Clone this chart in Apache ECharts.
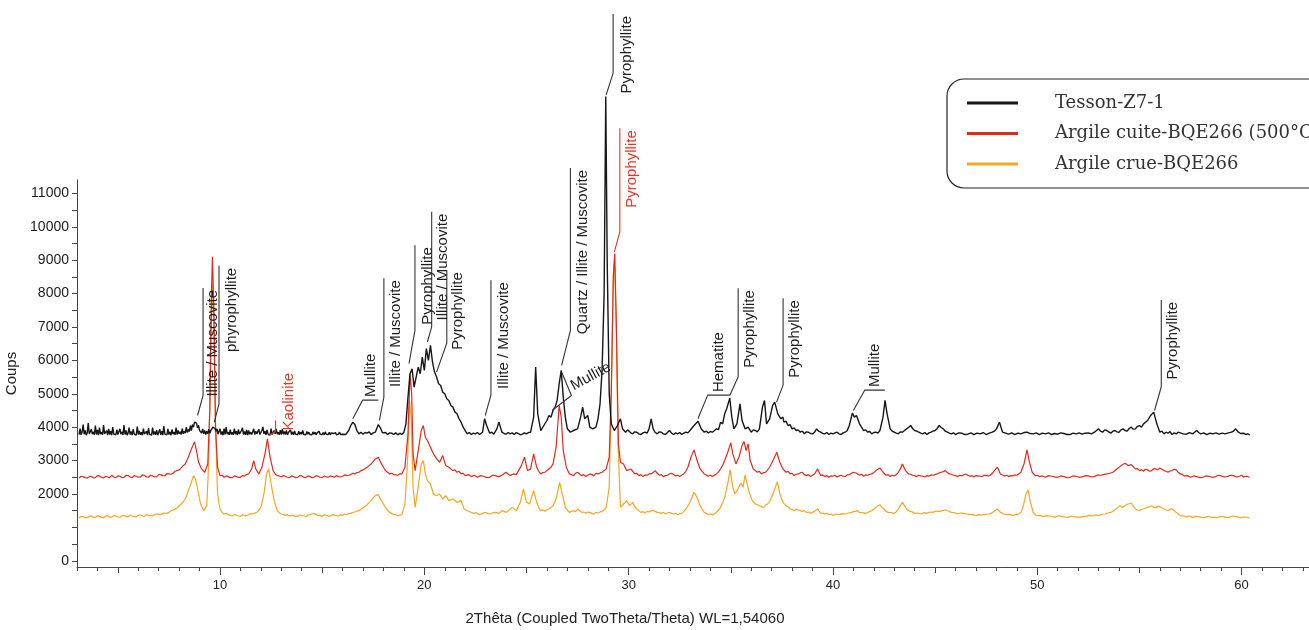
<!DOCTYPE html>
<html><head><meta charset="utf-8">
<script src="https://cdn.jsdelivr.net/npm/echarts@6/dist/echarts.min.js"></script>
<style>html,body{margin:0;padding:0;background:#fff}#c{width:1309px;height:630px}</style>
</head><body><div id="c"></div>
<script>
// ---------- data (2θ in degrees, counts) ----------
const tessonZ71 = [
[3.10,3780],[3.15,3960],[3.20,3770],[3.25,3850],[3.30,4080],[3.35,3790],[3.40,3900],[3.45,3760],[3.50,3830],[3.55,4120],
[3.60,3800],[3.65,3760],[3.70,3940],[3.75,3790],[3.80,3860],[3.85,3770],[3.90,4050],[3.95,3780],[4.00,3920],[4.05,3760],
[4.10,3990],[4.15,3790],[4.20,3850],[4.25,3770],[4.30,4060],[4.35,3800],[4.40,3780],[4.45,3900],[4.50,3760],[4.55,3950],
[4.60,3780],[4.65,3880],[4.70,3760],[4.75,4000],[4.80,3790],[4.85,3840],[4.90,3770],[4.95,3930],[5.00,3780],[5.05,3760],
[5.10,3950],[5.15,3790],[5.20,3860],[5.25,3770],[5.30,4060],[5.35,3780],[5.40,3900],[5.45,3760],[5.50,3820],[5.55,3990],
[5.60,3780],[5.65,3870],[5.70,3760],[5.75,3940],[5.80,3790],[5.85,3800],[5.90,3760],[5.95,4020],[6.00,3780],[6.05,3890],
[6.10,3770],[6.15,3850],[6.20,3760],[6.25,3960],[6.30,3790],[6.35,3780],[6.40,3880],[6.45,3760],[6.50,3970],[6.55,3790],
[6.60,3830],[6.65,3760],[6.70,3990],[6.75,3780],[6.80,3870],[6.85,3770],[6.90,3910],[6.95,3760],[7.00,3800],[7.05,3940],
[7.10,3770],[7.15,3880],[7.20,3760],[7.25,4030],[7.30,3790],[7.35,3820],[7.40,3770],[7.45,3950],[7.50,3780],[7.55,3860],
[7.60,3760],[7.65,3930],[7.70,3790],[7.75,3850],[7.80,3770],[7.85,3990],[7.90,3780],[7.95,3900],[8.00,3800],[8.05,3860],
[8.10,3780],[8.15,3960],[8.20,3800],[8.25,3880],[8.30,3820],[8.35,4000],[8.40,3840],[8.45,3930],[8.50,3870],[8.55,4050],
[8.60,3900],[8.65,4080],[8.70,4000],[8.75,4150],[8.80,4180],[8.85,4120],[8.90,3980],[8.95,4050],[9.00,3900],[9.05,3870],
[9.10,3820],[9.15,3950],[9.20,3800],[9.25,3900],[9.30,3780],[9.35,3880],[9.40,3800],[9.45,3930],[9.50,3820],[9.55,3900],
[9.60,3950],[9.65,4000],[9.70,4050],[9.75,3960],[9.80,3880],[9.85,3950],[9.90,3790],[9.95,3880],[10.00,3950],[10.05,3780],
[10.10,3870],[10.15,3760],[10.20,3960],[10.25,3780],[10.30,4000],[10.35,3790],[10.40,3850],[10.45,3770],[10.50,3930],[10.55,3780],
[10.60,3850],[10.65,3770],[10.70,3960],[10.75,3790],[10.80,3880],[10.85,3760],[10.90,3930],[10.95,3790],[11.00,3760],[11.05,3900],
[11.10,3980],[11.15,3780],[11.20,3870],[11.25,3770],[11.30,3920],[11.35,3760],[11.40,3900],[11.45,3790],[11.50,3850],[11.55,3780],
[11.60,3790],[11.65,3950],[11.70,3780],[11.75,3880],[11.80,3800],[11.85,3770],[11.90,3940],[11.95,3780],[12.00,3770],[12.05,3900],
[12.10,4010],[12.15,3800],[12.20,3880],[12.25,3770],[12.30,3920],[12.35,3790],[12.40,3830],[12.45,3760],[12.50,3960],[12.55,3780],
[12.60,3780],[12.65,3900],[12.70,3800],[12.75,3950],[12.80,3790],[12.85,3850],[12.90,3770],[12.95,3910],[13.00,3780],[13.05,3940],
[13.10,3790],[13.15,3870],[13.20,3780],[13.25,3900],[13.30,3770],[13.35,3840],[13.40,3790],[13.45,3920],[13.50,3780],[13.55,3860],
[13.60,3770],[13.65,3890],[13.70,3790],[13.75,3830],[13.80,3770],[13.85,3880],[13.90,3780],[13.95,3850],[14.00,3790],[14.05,3900],
[14.10,3780],[14.15,3830],[14.20,3770],[14.25,3870],[14.30,3790],[14.35,3850],[14.40,3780],[14.45,3810],[14.50,3770],[14.55,3860],
[14.60,3790],[14.65,3850],[14.70,3770],[14.75,3830],[14.80,3780],[14.85,3880],[14.90,3790],[14.95,3830],[15.00,3780],[15.05,3840],
[15.10,3770],[15.15,3860],[15.20,3790],[15.25,3820],[15.30,3780],[15.35,3850],[15.40,3770],[15.45,3830],[15.50,3790],[15.55,3810],
[15.60,3780],[15.65,3840],[15.70,3770],[15.75,3810],[15.80,3790],[15.85,3850],[15.90,3780],[15.95,3820],[16.00,3790],[16.05,3830],
[16.15,3780],[16.2,3810],[16.3,3900],[16.4,4050],[16.5,4150],[16.6,4080],[16.7,3900],[16.8,3800],
[16.9,3850],[17.0,3790],[17.1,3840],[17.2,3820],[17.3,3860],[17.4,3780],[17.5,3830],[17.6,3850],[17.75,4080],[17.85,3980],[17.95,3830],[18.0,3800],
[18.1,3840],[18.2,3780],[18.3,3830],[18.4,3820],[18.5,3780],[18.6,3830],[18.7,3770],[18.8,3820],[18.9,3780],[19.0,3850],[19.1,4100],[19.2,4900],[19.3,5600],[19.4,5750],[19.5,5200],[19.6,5500],[19.7,5800],
[19.8,5600],[19.9,6100],[20.0,5700],[20.1,6350],[20.2,6000],[20.3,6450],[20.4,5950],[20.5,5650],[20.6,5500],[20.7,5300],
[20.8,5250],[20.9,5050],[21.0,5000],[21.1,4850],[21.2,4800],[21.3,4650],[21.4,4600],[21.5,4450],[21.6,4400],[21.7,4250],
[21.8,4150],[21.9,4000],[22.0,3900],[22.1,3800],[22.2,3840],[22.3,3780],[22.4,3820],[22.5,3800],[22.6,3840],[22.7,3780],[22.85,3850],[22.95,4250],[23.05,4050],
[23.2,3820],[23.3,3850],[23.4,3790],[23.55,3950],[23.65,4150],[23.8,3850],[23.9,3810],[24.0,3790],[24.1,3840],[24.2,3800],[24.3,3830],[24.4,3780],[24.5,3840],[24.6,3810],[24.7,3770],[24.8,3790],
[24.9,3830],[25.0,3800],[25.1,3840],[25.2,3850],[25.35,4300],[25.45,5800],[25.55,4400],[25.7,3900],[25.85,4050],[26.0,4200],[26.1,4350],[26.2,4300],
[26.3,4500],[26.4,4600],[26.5,4800],[26.6,5300],[26.7,5700],[26.8,4900],[26.9,4300],[27.0,3950],[27.15,3850],[27.3,3900],
[27.5,3950],[27.65,4300],[27.75,4600],[27.85,4250],[28.0,4350],[28.1,4000],[28.25,3950],[28.4,4000],[28.5,4250],[28.6,4700],
[28.7,5700],[28.8,8000],[28.88,13900],[28.95,9000],[29.05,5000],[29.15,4100],[29.3,3900],[29.45,4050],[29.6,4250],[29.7,3950],
[29.85,3850],[29.95,3920],[30.0,3900],[30.1,3830],[30.2,3800],[30.3,3860],[30.4,3850],[30.5,3800],[30.6,3780],[30.7,3830],[30.8,3850],[30.9,3820],[31.0,3950],[31.1,4250],[31.2,3950],[31.3,3840],[31.4,3800],
[31.5,3860],[31.6,3850],[31.7,3800],[31.8,3780],[31.9,3840],[32.0,3900],[32.1,3820],[32.2,3780],[32.3,3830],[32.4,3800],[32.5,3840],[32.6,3780],[32.7,3820],[32.8,3850],[32.9,3830],[33.0,3900],[33.2,4050],[33.4,4180],
[33.55,3950],[33.7,3850],[33.8,3880],[33.9,3830],[34.0,3870],[34.1,3850],[34.2,3900],[34.3,3950],[34.4,3930],[34.5,4150],[34.6,4100],[34.7,4400],[34.8,4550],[34.95,4870],[35.05,4300],
[35.15,3950],[35.3,4100],[35.45,4700],[35.55,4200],[35.7,3950],[35.85,4000],[36.0,3850],[36.1,3920],[36.2,3900],[36.3,3860],[36.4,3950],[36.55,4600],
[36.65,4800],[36.75,4100],[36.9,4250],[37.05,4650],[37.15,4750],[37.3,4400],[37.45,4250],[37.55,4300],[37.6,4150],[37.7,4180],[37.8,4050],[37.9,4080],[38.0,3950],
[38.1,3980],[38.2,3900],[38.3,3920],[38.4,3850],[38.5,3880],[38.6,3800],[38.7,3860],[38.8,3850],[38.9,3810],[39.0,3800],[39.1,3850],[39.2,3950],[39.3,3880],[39.4,3850],[39.5,3810],[39.6,3800],[39.7,3840],[39.8,3780],[39.9,3820],[40.0,3800],
[40.1,3830],[40.2,3850],[40.3,3800],[40.4,3780],[40.5,3830],[40.6,3850],[40.7,3900],[40.8,4050],[40.95,4420],[41.05,4300],[41.15,4350],[41.3,4100],[41.4,4000],[41.5,3900],[41.6,3920],[41.7,3850],
[41.8,3870],[41.9,3800],[42.0,3840],[42.1,3850],[42.2,3820],[42.3,3900],[42.45,4300],[42.55,4800],[42.65,4400],[42.8,3950],[42.9,3880],[43.0,3850],[43.1,3820],[43.2,3800],[43.3,3860],[43.4,3850],
[43.5,3900],[43.6,3950],[43.7,3990],[43.8,4050],[43.9,3960],[44.0,3900],[44.1,3880],[44.2,3850],[44.3,3820],[44.4,3800],[44.5,3840],[44.6,3780],[44.7,3830],[44.8,3850],[44.9,3880],[45.0,3900],[45.1,3960],[45.2,4050],[45.3,3990],[45.4,3950],
[45.5,3880],[45.6,3850],[45.7,3820],[45.8,3800],[45.9,3830],[46.0,3780],[46.15,3830],[46.3,3820],[46.45,3780],[46.6,3790],[46.75,3830],[46.9,3780],[47.05,3820],[47.2,3800],[47.35,3840],[47.5,3780],[47.65,3820],[47.8,3850],[47.9,3880],[48.0,3950],
[48.15,4150],[48.3,3850],[48.45,3820],[48.6,3790],[48.75,3830],[48.9,3780],[49.05,3820],[49.2,3800],[49.35,3840],[49.5,3850],[49.65,3810],[49.8,3800],[49.95,3830],[50.1,3780],[50.25,3820],[50.4,3800],[50.55,3830],[50.7,3780],
[50.85,3810],[51.0,3790],[51.15,3830],[51.3,3810],[51.45,3780],[51.6,3780],[51.75,3820],[51.9,3800],[52.05,3830],[52.2,3790],[52.35,3820],[52.5,3830],[52.65,3800],[52.8,3850],[52.9,3900],[53.0,3950],[53.1,3880],[53.2,3850],[53.3,3920],[53.4,3900],
[53.5,3860],[53.6,3820],[53.7,3880],[53.8,3900],[53.9,3860],[54.0,3850],[54.1,3920],[54.2,3950],[54.3,3900],[54.4,3880],[54.5,3960],[54.6,4000],[54.7,3940],[54.8,3950],[54.9,4020],[55.0,4050],[55.1,4000],[55.2,4100],[55.3,4150],[55.4,4200],
[55.55,4350],[55.7,4450],[55.85,4100],[56.0,3850],[56.1,3880],[56.2,3800],[56.3,3850],[56.4,3820],[56.5,3870],[56.6,3780],[56.7,3830],[56.8,3800],[56.9,3850],[57.0,3830],[57.15,3800],[57.3,3790],[57.45,3840],
[57.6,3800],[57.7,3850],[57.8,3900],[57.9,3840],[58.0,3800],[58.15,3830],[58.3,3780],[58.45,3820],[58.6,3800],[58.75,3830],[58.9,3790],[59.05,3820],[59.2,3800],[59.35,3830],[59.5,3850],[59.6,3880],[59.7,3950],[59.85,3850],
[59.95,3810],[60.0,3790],[60.1,3820],[60.2,3780],[60.3,3800],[60.4,3770]
];
const argileCuite = [
[3.1,2480],[3.2,2530],[3.3,2520],[3.4,2490],[3.5,2470],[3.6,2520],[3.7,2530],[3.8,2480],[3.9,2490],[4.0,2550],[4.1,2540],[4.2,2500],[4.3,2480],[4.4,2530],[4.5,2510],[4.6,2490],[4.7,2560],[4.8,2510],[4.9,2490],
[5.0,2540],[5.1,2530],[5.2,2490],[5.3,2500],[5.4,2560],[5.5,2550],[5.6,2510],[5.7,2490],[5.8,2550],[5.9,2530],[6.0,2500],[6.1,2510],[6.2,2570],[6.3,2560],[6.4,2510],[6.5,2500],[6.6,2560],[6.7,2540],[6.8,2510],[6.9,2520],
[7.0,2580],[7.1,2580],[7.2,2550],[7.3,2540],[7.4,2610],[7.5,2600],[7.6,2590],[7.7,2620],[7.8,2680],[7.9,2700],[8.0,2720],[8.1,2780],[8.2,2850],[8.3,2900],[8.45,3100],[8.6,3350],[8.75,3560],
[8.85,3300],[8.95,2950],[9.1,2750],[9.25,2650],[9.4,2900],[9.5,4500],[9.58,8000],[9.63,9100],[9.7,7500],[9.78,4000],
[9.88,2800],[10.0,2550],[10.1,2560],[10.2,2500],[10.3,2540],[10.4,2520],[10.5,2490],[10.6,2490],[10.7,2540],[10.8,2520],[10.9,2500],[11.0,2500],[11.1,2550],[11.2,2540],[11.3,2580],[11.4,2600],[11.55,2750],
[11.65,3000],[11.75,2750],[11.9,2600],[12.05,2800],[12.2,3200],[12.32,3650],[12.45,3100],[12.6,2700],[12.7,2600],[12.8,2550],[12.9,2540],[13.0,2510],
[13.1,2550],[13.2,2530],[13.3,2500],[13.4,2490],[13.5,2540],[13.6,2520],[13.7,2490],[13.8,2500],[13.9,2550],[14.0,2540],[14.1,2500],[14.2,2490],[14.3,2540],[14.4,2520],[14.5,2490],[14.6,2500],[14.7,2550],[14.8,2530],[14.9,2500],[15.0,2490],
[15.1,2540],[15.2,2510],[15.3,2500],[15.4,2540],[15.5,2520],[15.6,2500],[15.7,2550],[15.8,2520],[15.9,2510],[16.0,2530],[16.1,2570],[16.2,2550],[16.3,2560],[16.4,2580],[16.5,2620],[16.6,2600],[16.7,2640],[16.8,2650],[16.9,2700],[17.0,2720],
[17.1,2760],[17.2,2800],[17.3,2850],[17.4,2900],[17.5,2980],[17.6,3050],[17.75,3100],[17.9,2900],[18.0,2800],[18.1,2700],[18.2,2650],[18.3,2600],[18.4,2620],[18.5,2580],[18.6,2570],[18.7,2560],[18.8,2610],[18.9,2600],
[19.05,2800],[19.2,3800],[19.3,5600],[19.38,5000],[19.45,3200],[19.55,2700],[19.7,3300],[19.85,3900],[19.95,4050],[20.05,3700],
[20.15,3600],[20.3,3400],[20.45,3200],[20.6,3050],[20.75,2950],[20.9,3150],[21.05,2850],[21.2,2800],[21.3,2750],[21.4,2700],[21.5,2720],[21.6,2650],
[21.7,2680],[21.8,2600],[21.9,2620],[22.0,2550],[22.15,2580],[22.3,2520],[22.45,2560],[22.6,2500],[22.75,2550],[22.9,2530],[23.05,2490],[23.2,2500],[23.35,2560],[23.5,2540],[23.65,2520],[23.8,2560],[24.0,2650],[24.2,2550],
[24.35,2600],[24.5,2580],[24.75,2850],[24.9,3100],[25.05,2700],[25.2,2750],[25.35,3200],[25.5,2800],[25.6,2680],[25.7,2600],[25.8,2640],[25.9,2650],[26.0,2700],[26.1,2750],
[26.2,2800],[26.3,2900],[26.45,3400],[26.6,4650],[26.7,4300],[26.8,3300],[26.95,2800],[27.1,2600],[27.2,2580],[27.3,2550],[27.4,2620],[27.5,2650],[27.6,2600],[27.7,2550],
[27.8,2580],[27.9,2520],[28.0,2560],[28.1,2600],[28.2,2580],[28.3,2550],[28.4,2620],[28.5,2600],[28.6,2630],[28.7,2650],[28.8,2700],[28.9,2750],[29.05,3100],[29.15,5000],[29.25,8500],[29.32,9200],
[29.4,7000],[29.5,3500],[29.6,2950],[29.75,2900],[29.9,2700],[30.1,2750],[30.2,2680],[30.3,2600],[30.4,2620],[30.5,2550],[30.6,2580],[30.7,2520],[30.8,2570],[30.9,2560],
[31.0,2600],[31.1,2600],[31.2,2640],[31.3,2700],[31.4,2620],[31.5,2560],[31.6,2580],[31.7,2520],[31.8,2550],[31.9,2560],[32.0,2600],[32.1,2620],[32.2,2580],[32.3,2540],[32.4,2560],[32.5,2520],[32.6,2570],[32.7,2600],[32.8,2680],[32.9,2800],
[33.05,3100],[33.2,3320],[33.35,3000],[33.5,2750],[33.6,2680],[33.7,2600],[33.8,2570],[33.9,2530],[34.0,2560],[34.1,2520],[34.2,2560],[34.3,2600],[34.4,2660],[34.5,2750],[34.6,2850],[34.7,3000],
[34.85,3250],[35.0,3530],[35.1,3200],[35.25,2900],[35.4,3100],[35.55,3450],[35.65,3570],[35.75,3300],[35.85,3500],[35.95,3000],
[36.1,2750],[36.2,2700],[36.3,2650],[36.4,2680],[36.5,2600],[36.6,2640],[36.7,2650],[36.8,2720],[36.9,2800],[37.1,3050],[37.25,3250],[37.4,2950],[37.55,2750],[37.7,2650],
[37.8,2680],[37.9,2600],[38.0,2620],[38.1,2550],[38.2,2590],[38.3,2600],[38.4,2630],[38.5,2650],[38.6,2580],[38.7,2550],[38.8,2580],[38.9,2520],[39.0,2560],[39.1,2600],[39.25,2750],[39.4,2550],[39.5,2570],[39.6,2520],
[39.7,2550],[39.8,2500],[39.9,2540],[40.0,2530],[40.1,2560],[40.2,2510],[40.3,2540],[40.4,2560],[40.5,2530],[40.6,2520],[40.7,2570],[40.8,2580],[40.9,2620],[41.0,2650],[41.15,2620],[41.3,2560],[41.4,2590],[41.5,2530],
[41.6,2570],[41.7,2560],[41.8,2590],[41.9,2600],[42.0,2640],[42.1,2700],[42.2,2740],[42.3,2780],[42.45,2650],[42.6,2560],[42.7,2580],[42.8,2520],[42.9,2560],[43.0,2540],[43.1,2580],[43.2,2650],[43.3,2750],[43.4,2900],
[43.55,2700],[43.7,2600],[43.8,2590],[43.9,2560],[44.0,2550],[44.1,2520],[44.2,2560],[44.3,2540],[44.4,2530],[44.5,2510],[44.6,2550],[44.7,2530],[44.8,2570],[44.9,2560],[45.0,2580],[45.1,2600],[45.2,2630],[45.3,2650],
[45.4,2670],[45.5,2700],[45.6,2640],[45.7,2600],[45.8,2590],[45.9,2560],[46.0,2550],[46.1,2520],[46.2,2560],[46.3,2540],[46.4,2570],[46.5,2600],[46.6,2560],[46.7,2530],[46.8,2550],[46.9,2510],[47.0,2550],[47.1,2540],[47.2,2530],[47.3,2520],
[47.4,2560],[47.5,2550],[47.6,2540],[47.7,2560],[47.8,2620],[47.9,2700],[48.05,2800],[48.2,2600],[48.3,2570],[48.4,2540],[48.5,2560],[48.6,2520],[48.7,2550],[48.8,2540],[48.9,2570],[49.0,2560],[49.1,2600],[49.2,2650],
[49.35,2900],[49.5,3320],[49.6,3000],[49.75,2650],[49.9,2550],[50.0,2560],[50.1,2520],[50.25,2540],[50.4,2500],[50.55,2550],[50.7,2530],[50.85,2510],[51.0,2500],[51.15,2540],[51.3,2520],
[51.45,2490],[51.6,2500],[51.75,2540],[51.9,2530],[52.05,2500],[52.2,2510],[52.35,2550],[52.5,2540],[52.65,2510],[52.8,2520],[52.95,2570],[53.1,2560],[53.25,2580],[53.4,2600],[53.55,2620],[53.7,2650],[53.9,2750],[54.1,2850],
[54.3,2920],[54.45,2850],[54.6,2880],[54.8,2750],[54.9,2760],[55.0,2700],[55.1,2730],[55.2,2680],[55.3,2740],[55.4,2720],[55.5,2680],[55.6,2700],[55.7,2760],[55.8,2750],[55.9,2720],[56.0,2780],
[56.1,2740],[56.2,2700],[56.3,2680],[56.4,2650],[56.5,2690],[56.6,2700],[56.7,2740],[56.8,2720],[56.9,2650],[57.0,2600],[57.1,2580],[57.2,2540],[57.35,2550],[57.5,2500],[57.65,2540],[57.8,2520],[57.95,2490],[58.1,2500],[58.25,2540],[58.4,2530],
[58.55,2500],[58.7,2510],[58.85,2560],[59.0,2540],[59.15,2510],[59.3,2520],[59.45,2560],[59.6,2550],[59.75,2510],[59.9,2530],[60.0,2560],[60.1,2510],[60.25,2530],[60.4,2500]
];
const argileCrue = [
[3.1,1280],[3.2,1330],[3.3,1320],[3.4,1290],[3.5,1290],[3.6,1340],[3.7,1340],[3.8,1300],[3.9,1300],[4.0,1350],[4.1,1330],[4.2,1300],[4.3,1290],[4.4,1340],[4.5,1350],[4.6,1310],[4.7,1310],[4.8,1360],[4.9,1340],
[5.0,1310],[5.1,1300],[5.2,1350],[5.3,1360],[5.4,1320],[5.5,1320],[5.6,1370],[5.7,1340],[5.8,1320],[5.9,1310],[6.0,1360],[6.1,1370],[6.2,1340],[6.3,1330],[6.4,1380],[6.5,1360],[6.6,1350],[6.7,1340],[6.8,1390],[6.9,1400],
[7.0,1390],[7.1,1380],[7.2,1420],[7.3,1430],[7.4,1420],[7.5,1450],[7.6,1500],[7.7,1520],[7.8,1540],[7.9,1580],[8.0,1640],[8.1,1700],[8.2,1770],[8.3,1850],[8.45,2100],[8.6,2350],[8.7,2550],
[8.8,2450],[8.9,2150],[9.05,1700],[9.2,1500],[9.35,1650],[9.45,3000],[9.55,6500],[9.62,8300],[9.7,7000],[9.78,4000],
[9.88,2000],[10.0,1550],[10.1,1450],[10.2,1400],[10.3,1420],[10.4,1380],[10.5,1360],[10.6,1340],[10.7,1390],[10.8,1360],[10.9,1340],[11.0,1330],[11.1,1380],[11.2,1350],[11.3,1360],[11.4,1370],[11.5,1410],[11.6,1400],
[11.7,1430],[11.8,1450],[11.9,1520],[12.0,1600],[12.15,2000],[12.28,2600],[12.38,2750],[12.5,2300],[12.65,1800],[12.8,1500],[12.9,1440],[13.0,1400],[13.1,1390],[13.2,1360],
[13.3,1380],[13.4,1340],[13.5,1370],[13.6,1350],[13.7,1330],[13.8,1330],[13.9,1370],[14.0,1350],[14.1,1340],[14.2,1320],[14.3,1370],[14.4,1380],[14.5,1400],[14.6,1420],[14.7,1390],[14.8,1350],[14.9,1360],[15.0,1330],[15.1,1370],[15.2,1360],
[15.3,1340],[15.4,1340],[15.5,1380],[15.6,1370],[15.7,1350],[15.8,1340],[15.9,1380],[16.0,1360],[16.1,1400],[16.2,1380],[16.3,1410],[16.4,1420],[16.5,1450],[16.6,1460],[16.7,1490],[16.8,1500],[16.9,1550],[17.0,1580],[17.2,1680],
[17.4,1800],[17.6,1950],[17.75,1980],[17.9,1800],[18.0,1700],[18.1,1600],[18.2,1520],[18.3,1450],[18.4,1420],[18.5,1380],[18.6,1390],[18.7,1350],[18.8,1370],[18.9,1380],[19.05,1700],
[19.18,3000],[19.28,4800],[19.36,4200],[19.45,2200],[19.55,1600],[19.7,2200],[19.85,2900],[19.95,3000],[20.05,2600],[20.15,2400],
[20.3,2300],[20.45,2000],[20.6,1950],[20.75,2000],[20.9,1850],[21.05,1950],[21.2,1800],[21.4,1850],[21.6,1750],[21.8,1800],
[21.95,1550],[22.1,1500],[22.25,1460],[22.4,1420],[22.55,1440],[22.7,1380],[22.85,1420],[23.0,1450],[23.1,1420],[23.2,1400],[23.35,1440],[23.5,1450],[23.65,1420],[23.8,1500],[23.9,1480],[24.0,1450],[24.15,1520],[24.3,1600],
[24.5,1500],[24.7,1750],[24.85,2150],[25.0,1750],[25.15,1700],[25.35,2100],[25.5,1750],[25.6,1600],[25.7,1500],[25.8,1520],[25.9,1480],[26.0,1530],[26.1,1550],[26.2,1600],
[26.3,1650],[26.45,1850],[26.62,2350],[26.75,2000],[26.9,1600],[27.0,1520],[27.1,1450],[27.2,1480],[27.3,1500],[27.4,1470],[27.5,1550],[27.6,1500],[27.7,1450],[27.8,1460],[27.9,1420],
[28.0,1460],[28.1,1450],[28.2,1420],[28.3,1400],[28.4,1450],[28.5,1430],[28.6,1460],[28.7,1480],[28.8,1520],[28.9,1600],[29.05,2200],[29.15,5000],[29.25,8500],[29.3,9000],[29.38,7500],
[29.48,3500],[29.6,1600],[29.75,1700],[29.9,1800],[30.05,1650],[30.2,1750],[30.3,1620],[30.4,1550],[30.5,1500],[30.6,1450],[30.7,1470],[30.8,1430],[30.9,1480],[31.0,1460],
[31.1,1500],[31.2,1500],[31.3,1480],[31.4,1450],[31.5,1440],[31.6,1420],[31.7,1450],[31.8,1400],[31.9,1430],[32.0,1450],[32.1,1420],[32.2,1400],[32.3,1420],[32.4,1380],[32.5,1410],[32.6,1420],[32.7,1480],[32.8,1550],[32.9,1640],[33.0,1750],
[33.2,2050],[33.35,1900],[33.5,1650],[33.6,1540],[33.7,1450],[33.8,1420],[33.9,1380],[34.0,1400],[34.1,1370],[34.2,1410],[34.3,1450],[34.4,1520],[34.5,1600],[34.6,1740],[34.7,1900],[34.85,2300],
[34.97,2720],[35.1,2200],[35.2,2000],[35.35,2150],[35.5,2320],[35.6,2200],[35.7,2570],[35.8,2300],[35.9,2050],[36.05,1800],
[36.2,1700],[36.3,1680],[36.4,1650],[36.5,1620],[36.6,1600],[36.7,1660],[36.8,1700],[36.9,1780],[37.0,1900],[37.15,2150],[37.28,2370],[37.4,2000],[37.55,1750],[37.7,1650],
[37.8,1620],[37.9,1550],[38.0,1540],[38.1,1500],[38.2,1540],[38.3,1520],[38.4,1500],[38.5,1480],[38.6,1500],[38.7,1450],[38.8,1460],[38.9,1420],[39.0,1450],[39.1,1480],[39.25,1550],[39.4,1420],[39.5,1430],[39.6,1400],
[39.7,1420],[39.8,1380],[39.9,1400],[40.0,1360],[40.15,1400],[40.3,1380],[40.45,1410],[40.6,1400],[40.75,1430],[40.9,1450],[41.0,1470],[41.1,1480],[41.2,1500],[41.3,1450],[41.45,1440],[41.6,1420],[41.75,1460],[41.9,1500],[42.0,1550],[42.1,1600],
[42.2,1650],[42.3,1680],[42.4,1600],[42.5,1550],[42.6,1480],[42.7,1450],[42.85,1440],[43.0,1420],[43.1,1470],[43.2,1550],[43.3,1650],[43.4,1750],[43.55,1600],[43.65,1520],[43.75,1480],[43.9,1460],[44.0,1420],[44.15,1430],[44.3,1400],
[44.45,1440],[44.6,1420],[44.75,1460],[44.9,1450],[45.05,1490],[45.2,1480],[45.35,1500],[45.5,1520],[45.65,1490],[45.8,1450],[45.95,1440],[46.1,1400],[46.25,1430],[46.4,1420],[46.55,1400],[46.7,1380],[46.85,1390],[47.0,1350],[47.15,1380],[47.3,1370],
[47.45,1390],[47.6,1400],[47.75,1420],[47.9,1480],[48.05,1550],[48.2,1450],[48.35,1400],[48.5,1380],[48.65,1390],[48.8,1360],[48.95,1380],[49.1,1400],[49.2,1450],[49.3,1600],[49.45,2000],[49.55,2120],
[49.65,1800],[49.8,1450],[49.9,1380],[50.0,1350],[50.15,1360],[50.3,1320],[50.45,1350],[50.6,1340],[50.75,1320],[50.9,1310],[51.05,1350],[51.2,1330],[51.35,1310],[51.5,1300],[51.65,1340],[51.8,1320],[51.95,1310],[52.1,1300],[52.25,1330],
[52.4,1330],[52.55,1360],[52.7,1340],[52.85,1370],[53.0,1360],[53.15,1390],[53.3,1400],[53.45,1430],[53.6,1450],[53.75,1500],[53.85,1550],[53.95,1600],[54.05,1650],[54.15,1600],[54.25,1620],[54.35,1680],[54.45,1700],[54.6,1730],
[54.7,1640],[54.8,1550],[54.9,1520],[55.0,1500],[55.1,1540],[55.2,1550],[55.3,1580],[55.4,1600],[55.5,1620],[55.6,1650],[55.7,1600],[55.8,1580],[55.9,1640],[56.0,1620],[56.1,1580],[56.2,1550],[56.3,1520],[56.4,1500],[56.5,1540],[56.6,1560],
[56.7,1500],[56.8,1450],[56.9,1400],[57.0,1350],[57.15,1340],[57.3,1320],[57.45,1340],[57.6,1300],[57.75,1330],[57.9,1320],[58.05,1300],[58.2,1290],[58.35,1330],[58.5,1310],[58.65,1300],[58.8,1290],[58.95,1320],[59.1,1320],
[59.25,1300],[59.4,1300],[59.55,1340],[59.7,1330],[59.85,1300],[60.0,1290],[60.15,1310],[60.4,1280]
];
const seriesNames = ['Tesson-Z7-1', 'Argile cuite-BQE266 (500°C)', 'Argile crue-BQE266'];
const xLabelValues = [10, 20, 30, 40, 50, 60];
const xMidTicks = [5, 15, 25, 35, 45, 55];
const xMinorTicks = [3,4,5,6,7,8,9,10,11,12,13,14,15,16,17,18,19,20,21,22,23,24,25,26,27,28,29,30,31,32,33,34,35,36,37,38,39,40,41,42,43,44,45,46,47,48,49,50,51,52,53,54,55,56,57,58,59,60,61,62,63];
const yLabelValues = [0, 2000, 3000, 4000, 5000, 6000, 7000, 8000, 9000, 10000, 11000];
const yTickValues = [0,500,1000,1500,2000,2500,3000,3500,4000,4500,5000,5500,6000,6500,7000,7500,8000,8500,9000,9500,10000,10500,11000];
// peak identification labels: leader polyline in data coords
const annotations = [
 {text:'Illite / Muscovite', color:'k', kind:'side', dx:10, pts:[[8.9,4350],[9.17,4950],[9.17,8170]]},
 {text:'phyrophyllite', color:'k', kind:'side', dx:13, pts:[[9.72,4150],[9.95,4700],[9.95,8830]]},
 {text:'Kaolinite', color:'r', kind:'low', dx:13, pts:[[12.38,3750],[12.72,3870],[12.72,4200]]},
 {text:'Mullite', color:'k', kind:'flag', pts:[[16.5,4250],[16.98,4810],[17.75,4810]]},
 {text:'Illite / Muscovite', color:'k', kind:'side', dx:12, pts:[[17.8,4200],[18.02,4900],[18.02,8460]]},
 {text:'Pyrophyllite', color:'k', kind:'side', dx:13, pts:[[19.25,5900],[19.54,6900],[19.54,9450]]},
 {text:'Illite / Muscovite', color:'k', kind:'side', dx:11, pts:[[20.15,6550],[20.36,7000],[20.36,10450]]},
 {text:'Pyrophyllite', color:'k', kind:'side', dx:11, pts:[[20.6,5650],[21.1,6520],[21.1,8700]]},
 {text:'Illite / Muscovite', color:'k', kind:'side', dx:13, pts:[[22.98,4350],[23.26,4960],[23.26,8400]]},
 {text:'Mullite', color:'k', kind:'tilt', pts:[[26.25,4500],[27.2,4950],[26.72,5650]]},
 {text:'Quartz / Illite / Muscovite', color:'k', kind:'side', dx:12, pts:[[26.72,5850],[27.15,6900],[27.15,11760]]},
 {text:'Pyrophyllite', color:'k', kind:'side', dx:14, pts:[[28.9,13950],[29.24,14600],[29.24,16370]]},
 {text:'Pyrophyllite', color:'r', kind:'side', dx:12, pts:[[29.3,9250],[29.57,9850],[29.57,12950]]},
 {text:'Hematite', color:'k', kind:'flag', pts:[[33.39,4250],[33.87,4960],[34.95,4960]]},
 {text:'Pyrophyllite', color:'k', kind:'side', dx:12, pts:[[34.95,4950],[35.36,5510],[35.36,8160]]},
 {text:'Pyrophyllite', color:'k', kind:'side', dx:12, pts:[[37.24,4750],[37.56,5260],[37.56,7860]]},
 {text:'Mullite', color:'k', kind:'flag', pts:[[41.0,4500],[41.56,5110],[42.54,5110]]},
 {text:'Pyrophyllite', color:'k', kind:'side', dx:12, pts:[[55.74,4500],[56.07,5210],[56.07,7810]]}
];

// ---------- chart ----------
const BLACK = '#161616', RED = '#e0291f', ORANGE = '#f5a623', RED_TXT = '#dc3a2a', LEAD = '#333';
const chart = echarts.init(document.getElementById('c'), null, {renderer: 'canvas'});
const X_MIN = 3, X_MAX = 63.3, Y_MIN = -186, Y_MAX = 11400;
const sansFont = 'Liberation Sans, Arial, sans-serif';

function xAxisDef(extra) {
  return Object.assign({
    type: 'value', min: X_MIN, max: X_MAX, position: 'bottom', offset: 0,
    splitLine: {show: false}, axisLine: {show: false, onZero: false},
    axisLabel: {show: false}, axisTick: {show: false}
  }, extra);
}

const series = [
  {name: seriesNames[2], type: 'line', data: argileCrue, color: ORANGE, z: 2, w: 1.2},
  {name: seriesNames[1], type: 'line', data: argileCuite, color: RED, z: 3, w: 1.2},
  {name: seriesNames[0], type: 'line', data: tessonZ71, color: BLACK, z: 4, w: 1.4}
].map(s => {
  const w = s.w; delete s.w;
  return Object.assign(s, {
    symbol: 'none', showSymbol: false, clip: false, silent: true, animation: false,
    lineStyle: {width: w, color: s.color}, itemStyle: {color: s.color}
  });
});

annotations.forEach(a => series.push({
  type: 'line', data: a.pts, symbol: 'none', showSymbol: false, clip: false, silent: true,
  animation: false, z: 5, lineStyle: {width: 1.1, color: a.color === 'r' ? RED_TXT : LEAD}
}));

chart.setOption({
  animation: false,
  backgroundColor: '#fff',
  grid: {left: 77, right: 0, top: 180, bottom: 63, containLabel: false, outerBoundsMode: 'none'},
  legend: {
    data: seriesNames, orient: 'vertical', left: 947, top: 79,
    padding: [14, 40, 14, 20], itemGap: 10.5, itemWidth: 51, itemHeight: 3, icon: 'rect',
    borderColor: '#222', borderWidth: 1.2, borderRadius: 17, backgroundColor: '#fff',
    selectedMode: false,
    textStyle: {fontFamily: 'DejaVu Serif', fontSize: 18, color: '#333', lineHeight: 20, padding: [0, 0, 0, 32]}
  },
  xAxis: [
    xAxisDef({
      axisLine: {show: true, onZero: false, lineStyle: {color: '#444', width: 1}},
      axisTick: {show: true, customValues: xLabelValues, length: 8, lineStyle: {color: '#444'}},
      axisLabel: {show: true, customValues: xLabelValues, margin: 12, fontSize: 13, color: '#222', fontFamily: sansFont},
      name: '2Thêta (Coupled TwoTheta/Theta) WL=1,54060', nameLocation: 'middle', nameGap: 44,
      nameTextStyle: {fontSize: 15, color: '#222', fontFamily: sansFont, padding: [0, 136, 0, 0]}
    }),
    xAxisDef({axisLine: {show: false, onZero: false},
              axisTick: {show: true, customValues: xMidTicks, length: 6, lineStyle: {color: '#444'}},
              axisLabel: {show: false, customValues: xMidTicks}}),
    xAxisDef({axisLine: {show: false, onZero: false},
              axisTick: {show: true, customValues: xMinorTicks, length: 4, lineStyle: {color: '#444'}},
              axisLabel: {show: false, customValues: xMinorTicks}})
  ],
  yAxis: [{
    type: 'value', min: Y_MIN, max: Y_MAX, position: 'left',
    splitLine: {show: false},
    axisLine: {show: true, onZero: false, lineStyle: {color: '#444', width: 1}},
    axisTick: {show: true, customValues: yTickValues, length: 5, lineStyle: {color: '#444'}},
    axisLabel: {show: true, customValues: yLabelValues, margin: 8, fontSize: 14, color: '#1a1a1a', fontFamily: sansFont,
                formatter: v => String(v)},
    name: 'Coups', nameLocation: 'middle', nameRotate: 90, nameGap: 44,
    nameTextStyle: {fontSize: 15, color: '#222', fontFamily: sansFont}
  }],
  series: series
});

// label texts placed next to their leader lines
const toPx = p => chart.convertToPixel({xAxisIndex: 0, yAxisIndex: 0}, p);
const graphics = [];
annotations.forEach(a => {
  const pts = a.pts.map(toPx);
  const last = pts[pts.length - 1];
  const style = {text: a.text, fill: a.color === 'r' ? RED_TXT : '#1e1e1e', fontSize: 15, fontFamily: sansFont};
  let el;
  if (a.kind === 'side') {
    el = {x: last[0] + a.dx, y: last[1] + 2, rotation: Math.PI / 2, style: Object.assign(style, {align: 'right', verticalAlign: 'middle'})};
  } else if (a.kind === 'low') {
    el = {x: last[0] + a.dx, y: pts[1][1] - 1, rotation: Math.PI / 2, style: Object.assign(style, {align: 'left', verticalAlign: 'middle'})};
  } else if (a.kind === 'flag') {
    el = {x: (pts[1][0] + pts[2][0]) / 2, y: pts[1][1] - 3, rotation: Math.PI / 2, style: Object.assign(style, {align: 'left', verticalAlign: 'middle'})};
  } else {
    el = {x: pts[1][0] + 4, y: pts[1][1] - 2, rotation: 0.5, style: Object.assign(style, {align: 'left', verticalAlign: 'bottom'})};
  }
  el.type = 'text';
  el.silent = true;
  el.z = 10;
  graphics.push(el);
});
chart.setOption({graphic: graphics});
</script>
</body></html>
